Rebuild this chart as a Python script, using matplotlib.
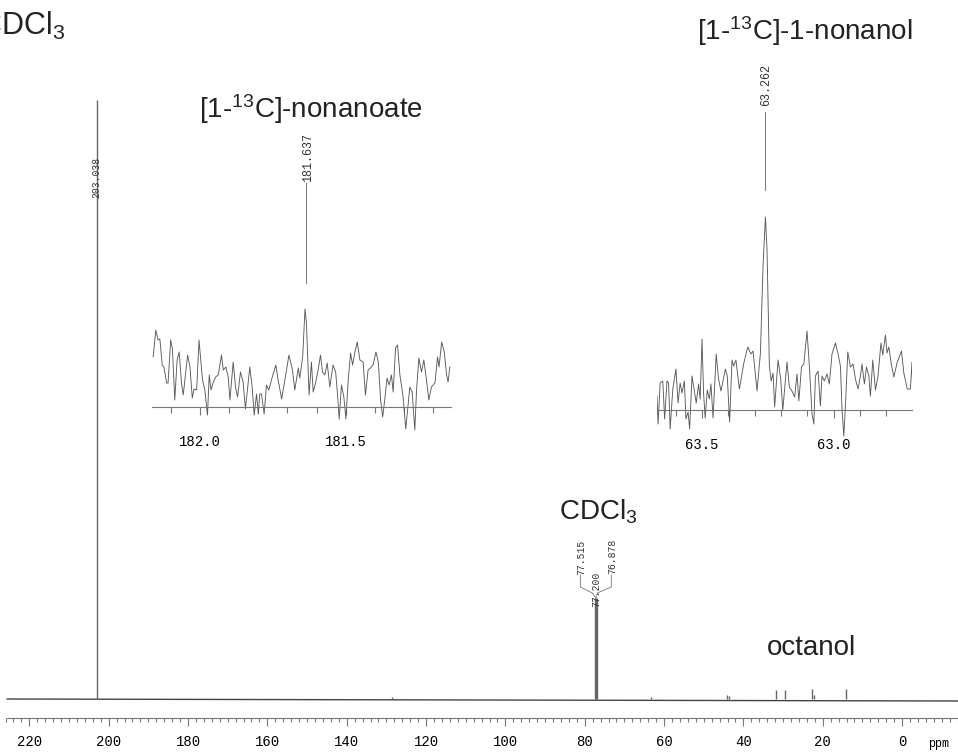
import matplotlib
matplotlib.use('Agg')
import matplotlib.pyplot as plt
from matplotlib.ticker import MultipleLocator, FormatStrFormatter

plt.rcParams['font.family'] = ['Liberation Sans', 'DejaVu Sans']
plt.rcParams['mathtext.fontset'] = 'custom'
plt.rcParams['mathtext.rm'] = 'Liberation Sans'
plt.rcParams['mathtext.it'] = 'Liberation Sans:italic'

W, H = 958, 752
MONO = 'Liberation Mono'
TRACE = '#5a5a5a'
LABEL = '#333333'

# full spectrum: peak positions (ppm) and heights above baseline
peak_ppm = [203.038, 128.6, 77.515, 77.200, 76.878, 63.3, 44.1, 43.6,
            31.9, 29.4, 22.7, 22.2, 14.1]
peak_height = [599, 2, 101, 101, 101, 2, 4, 3, 9, 9, 10, 4, 10]
baseline_ppm = [225.6, -14.1]
baseline_level = [0.0, -2.0]
major_ticks = [220, 200, 180, 160, 140, 120, 100, 80, 60, 40, 20, 0]

# expansion around the carboxylate carbon (nonanoate)
nonanoate_ppm = [
    182.160, 182.151, 182.143, 182.137, 182.129, 182.123, 182.114, 182.109,
    182.100, 182.094, 182.086, 182.078, 182.071, 182.063, 182.057, 182.042,
    182.034, 182.026, 182.020, 182.011, 182.003, 181.997, 181.991, 181.983,
    181.977, 181.974, 181.968, 181.962, 181.955, 181.946, 181.937, 181.926,
    181.920, 181.911, 181.903, 181.897, 181.886, 181.878, 181.871, 181.861,
    181.852, 181.844, 181.829, 181.821, 181.814, 181.806, 181.800, 181.795,
    181.789, 181.780, 181.772, 181.764, 181.755, 181.740, 181.732, 181.720,
    181.709, 181.695, 181.683, 181.675, 181.663, 181.658, 181.648, 181.640,
    181.635, 181.626, 181.618, 181.612, 181.604, 181.595, 181.587, 181.580,
    181.572, 181.564, 181.555, 181.544, 181.535, 181.528, 181.523, 181.515,
    181.507, 181.500, 181.492, 181.484, 181.477, 181.469, 181.461, 181.452,
    181.441, 181.433, 181.424, 181.416, 181.407, 181.397, 181.389, 181.381,
    181.374, 181.367, 181.359, 181.352, 181.344, 181.338, 181.330, 181.323,
    181.315, 181.304, 181.295, 181.287, 181.281, 181.273, 181.264, 181.258,
    181.250, 181.241, 181.233, 181.224, 181.216, 181.207, 181.195, 181.186,
    181.181, 181.172, 181.163, 181.155, 181.150, 181.144]
nonanoate_int = [
    50, 77, 67, 68, 42, 40, 24, 24,
    67, 58, 7, 47, 55, 24, 12, 52,
    40, 9, 18, 17, 67, 47, 27, 17,
    0, -8, 32, 17, 24, 30, 32, 52,
    37, 40, 30, 7, 45, 20, 10, 35,
    25, -2, 40, 20, -8, 13, -7, 13,
    13, -7, 22, 17, 27, 42, 27, 8,
    27, 52, 37, 17, 39, 29, 50, 98,
    84, 12, 45, 15, 24, 37, 52, 35,
    32, 44, 20, 42, 35, 10, -12, 22,
    10, -12, 27, 54, 42, 55, 65, 47,
    45, 12, 37, 39, 42, 55, 45, 7,
    -10, 7, 29, 22, 32, 15, 59, 62,
    32, 10, -22, 2, 20, 15, -23, 17,
    49, 35, 47, 27, 7, 20, 24, 50,
    40, 65, 55, 32, 25, 40]

# expansion around the carbinol carbon (1-nonanol)
nonanol_ppm = [
    63.671, 63.667, 63.659, 63.649, 63.642, 63.633, 63.627, 63.621,
    63.611, 63.599, 63.591, 63.583, 63.576, 63.567, 63.561, 63.553,
    63.547, 63.538, 63.529, 63.522, 63.513, 63.507, 63.500, 63.494,
    63.488, 63.480, 63.472, 63.466, 63.458, 63.446, 63.437, 63.428,
    63.411, 63.404, 63.395, 63.386, 63.380, 63.371, 63.358, 63.341,
    63.326, 63.314, 63.306, 63.291, 63.278, 63.268, 63.259, 63.253,
    63.244, 63.237, 63.230, 63.224, 63.211, 63.201, 63.193, 63.177,
    63.168, 63.158, 63.148, 63.139, 63.132, 63.122, 63.113, 63.101,
    63.092, 63.082, 63.075, 63.069, 63.059, 63.050, 63.044, 63.035,
    63.025, 63.016, 63.006, 62.993, 62.983, 62.974, 62.968, 62.961,
    62.955, 62.946, 62.936, 62.926, 62.917, 62.907, 62.898, 62.892,
    62.883, 62.875, 62.866, 62.860, 62.851, 62.841, 62.831, 62.820,
    62.813, 62.803, 62.797, 62.790, 62.780, 62.771, 62.759, 62.742,
    62.733, 62.720, 62.708, 62.702, 62.699]
nonanol_int = [
    14, -14, 27, 29, -9, 29, 27, -19,
    21, 41, 7, 27, 17, 29, -9, -2,
    -19, 34, 19, 7, 26, 11, 71, 17,
    -8, 20, 11, 26, -8, 56, 31, 19,
    41, 34, -12, 50, 44, 50, 21, 47,
    63, 56, 59, 19, 57, 144, 193, 161,
    44, 29, 37, 3, 50, 31, 0, 48,
    23, 19, 13, 36, 9, 43, 46, 79,
    44, -4, -14, 34, 39, 4, 34, 29,
    36, 26, 56, 67, 56, 44, 1, -26,
    4, 58, 43, 46, 31, 21, 34, 46,
    26, 43, 34, 14, 50, 20, 34, 67,
    55, 75, 57, 63, 45, 33, 47, 59,
    37, 21, 21, 48, 15]


def fx(x):
    return x / W


def fy(y):
    return 1 - y / H


fig = plt.figure(figsize=(W / 100, H / 100), dpi=100)

# ---- main spectrum ----
ax = fig.add_axes([0, 0, 1, 1])
ax.set_xlim(227.4, -14.1)
ax.set_ylim(-53, 699)
ax.plot(baseline_ppm, baseline_level, color='#444444', lw=1.0)
ax.vlines(peak_ppm, 0, peak_height, color='#666666', lw=1.0)

for s in ['top', 'left', 'right']:
    ax.spines[s].set_visible(False)
ax.spines['bottom'].set_position(('data', -19))
ax.spines['bottom'].set_bounds(225.6, -14.1)
ax.spines['bottom'].set_color('#777777')
ax.spines['bottom'].set_linewidth(0.8)
ax.set_yticks([])
ax.set_xticks(major_ticks)
ax.set_xticklabels([str(t) for t in major_ticks], family=MONO, fontsize=10)
ax.xaxis.set_minor_locator(MultipleLocator(2))
ax.tick_params(axis='x', which='major', direction='out', length=6, width=0.8,
               color='#777777', pad=6.5)
ax.tick_params(axis='x', which='minor', direction='out', length=3, width=0.8,
               color='#777777')
ax.text(-9.3, -45, 'ppm', family=MONO, fontsize=8.5, ha='center', va='center')

# peak labels on the full spectrum
ax.text(203.038, 522, '203.038', rotation=90, family=MONO, fontsize=7,
        ha='center', va='center', color=LABEL)
ax.plot([81.1, 81.1, 78.1, 77.2], [124, 112, 106, 101], color='#777777', lw=0.6)
ax.plot([73.3, 73.3, 76.8, 77.2], [124, 112, 106, 101], color='#777777', lw=0.6)
ax.text(80.8, 142, '77.515', rotation=90, family=MONO, fontsize=7,
        ha='center', va='center', color=LABEL)
ax.text(77.1, 110, '77.200', rotation=90, family=MONO, fontsize=7,
        ha='center', va='center', color=LABEL)
ax.text(73.0, 143, '76.878', rotation=90, family=MONO, fontsize=7,
        ha='center', va='center', color=LABEL)

# ---- nonanoate expansion ----
ins1 = fig.add_axes([fx(152), fy(432), fx(451) - fx(152), fy(120) - fy(432)])
ins1.patch.set_alpha(0)
ins1.plot(nonanoate_ppm, nonanoate_int, color=TRACE, lw=0.65)
ins1.set_xlim(182.164, 181.140)
ins1.set_ylim(-25, 287)
ins1.plot([181.637, 181.637], [124, 224], color='#777777', lw=0.7)
ins1.text(181.630, 250, '181.637', rotation=90, family=MONO, fontsize=8.4,
          ha='center', va='center', color=LABEL)

# ---- nonanol expansion ----
ins2 = fig.add_axes([fx(657), fy(440), fx(912) - fx(657), fy(50) - fy(440)])
ins2.patch.set_alpha(0)
ins2.plot(nonanol_ppm, nonanol_int, color=TRACE, lw=0.65)
ins2.set_xlim(63.671, 62.702)
ins2.set_ylim(-30, 360)
ins2.plot([63.262, 63.262], [220, 298], color='#777777', lw=0.7)
ins2.text(63.256, 325, '63.262', rotation=90, family=MONO, fontsize=8.4,
          ha='center', va='center', color=LABEL)

for a in (ins1, ins2):
    for s in ['top', 'left', 'right']:
        a.spines[s].set_visible(False)
    a.spines['bottom'].set_position(('data', 0))
    a.spines['bottom'].set_color('#777777')
    a.spines['bottom'].set_linewidth(0.8)
    a.set_yticks([])
    a.xaxis.set_major_locator(MultipleLocator(0.5))
    a.xaxis.set_minor_locator(MultipleLocator(0.1))
    a.xaxis.set_major_formatter(FormatStrFormatter('%.1f'))
    a.tick_params(axis='x', which='major', direction='out', length=6, width=0.8,
                  color='#777777', pad=14, labelsize=10)
    a.tick_params(axis='x', which='minor', direction='out', length=4, width=0.8,
                  color='#777777')
    for lab in a.get_xticklabels():
        lab.set_family(MONO)

# ---- compound labels ----
fig.text(fx(65), fy(35), 'CDCl$_\\mathregular{3}$', fontsize=22, ha='right',
         va='baseline', color='#222222')
fig.text(fx(805), fy(40), '[1-$^\\mathregular{13}$C]-1-nonanol', fontsize=20,
         ha='center', va='baseline', color='#222222')
fig.text(fx(311), fy(118), '[1-$^\\mathregular{13}$C]-nonanoate', fontsize=20,
         ha='center', va='baseline', color='#222222')
fig.text(fx(598), fy(520), 'CDCl$_\\mathregular{3}$', fontsize=20,
         ha='center', va='baseline', color='#222222')
fig.text(fx(812), fy(655), 'octanol', fontsize=20,
         ha='center', va='baseline', color='#222222')

fig.savefig('out.png', dpi=100)
